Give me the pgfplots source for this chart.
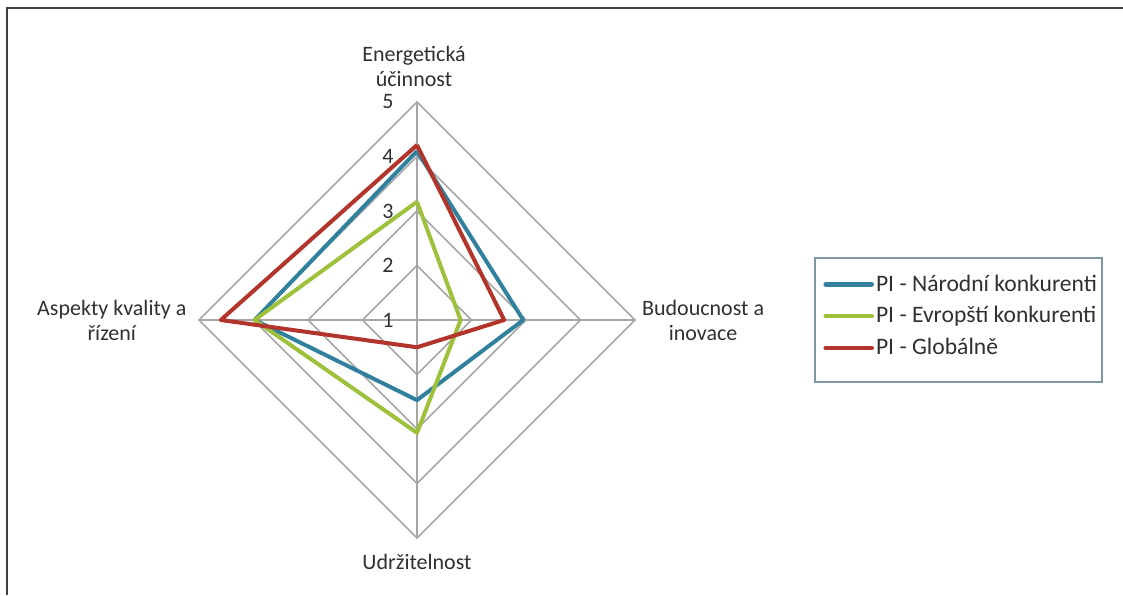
\documentclass[border=0pt]{standalone}
\usepackage{pgfplots}
\pgfplotsset{compat=1.18}
\usepackage{pgfplotstable}
\usepackage{fontspec}
\setmainfont{Carlito}

\definecolor{narblue}{HTML}{31809E}
\definecolor{evrgreen}{HTML}{9DC13A}
\definecolor{globred}{HTML}{B2342A}
\definecolor{gridgray}{HTML}{A6A6A6}
\definecolor{txt}{HTML}{303030}
\definecolor{legframe}{HTML}{7E98A0}

% radar values: angle of the spoke (deg) and score of each series (scale 1-5)
\pgfplotstableread{
angle nar  evr  glob
90    4.10 3.17 4.21
0     2.95 1.80 2.60
270   2.47 3.07 1.50
180   3.98 3.98 4.60
90    4.10 3.17 4.21
}\radardata

\begin{document}
\begin{tikzpicture}[font=\fontsize{11}{12.5}\selectfont, text=txt]
\begin{axis}[
  x=27.25pt, y=27.25pt,
  xmin=-7.6514, xmax=12.9541, ymin=-5.0459, ymax=5.8716,
  hide axis, clip=false,
  legend style={at={(axis cs:7.45,0.07)}, anchor=west,
    draw=none, fill=none, inner sep=0pt,
    row sep=4.2pt, font=\fontsize{11.8}{13}\selectfont, text=txt,
    nodes={inner xsep=1pt, inner ysep=1pt}},
  legend cell align=left,
  legend image code/.code={\draw[#1, line width=2.3pt, line cap=round] (0pt,0pt) -- (23pt,0pt);},
]
% diamond grid, rings at 2,3,4,5
\draw[gridgray, line width=0.8pt] (axis cs:1,0) -- (axis cs:0,1) -- (axis cs:-1,0) -- (axis cs:0,-1) -- cycle;
\draw[gridgray, line width=0.8pt] (axis cs:2,0) -- (axis cs:0,2) -- (axis cs:-2,0) -- (axis cs:0,-2) -- cycle;
\draw[gridgray, line width=0.8pt] (axis cs:3,0) -- (axis cs:0,3) -- (axis cs:-3,0) -- (axis cs:0,-3) -- cycle;
\draw[gridgray, line width=0.8pt] (axis cs:4,0) -- (axis cs:0,4) -- (axis cs:-4,0) -- (axis cs:0,-4) -- cycle;
\draw[gridgray, line width=0.8pt] (axis cs:-4,0) -- (axis cs:4,0);
\draw[gridgray, line width=0.8pt] (axis cs:0,-4) -- (axis cs:0,4);

\addplot[narblue, line width=2pt, line join=round] table[
  x expr={(\thisrow{nar}-1)*cos(\thisrow{angle})},
  y expr={(\thisrow{nar}-1)*sin(\thisrow{angle})}] {\radardata};
\addlegendentry{PI - Národní konkurenti}
\addplot[evrgreen, line width=2pt, line join=round] table[
  x expr={(\thisrow{evr}-1)*cos(\thisrow{angle})},
  y expr={(\thisrow{evr}-1)*sin(\thisrow{angle})}] {\radardata};
\addlegendentry{PI - Evropští konkurenti}
\addplot[globred, line width=2pt, line join=round] table[
  x expr={(\thisrow{glob}-1)*cos(\thisrow{angle})},
  y expr={(\thisrow{glob}-1)*sin(\thisrow{angle})}] {\radardata};
\addlegendentry{PI - Globálně}

% legend frame
\draw[legframe, line width=0.8pt] (axis cs:7.303,1.138) rectangle (axis cs:12.569,-1.138);

% scale labels
\node[anchor=east] at (axis cs:-0.30,4) {5};
\node[anchor=east] at (axis cs:-0.30,3) {4};
\node[anchor=east] at (axis cs:-0.30,2) {3};
\node[anchor=east] at (axis cs:-0.30,1) {2};
\node[anchor=east] at (axis cs:-0.30,0) {1};

% category labels
\node[align=center] at (axis cs:-0.055,4.66) {Energetická\\účinnost};
\node[align=center] at (axis cs:5.25,0) {Budoucnost a\\inovace};
\node[align=center] at (axis cs:0,-4.44) {Udržitelnost};
\node[align=center] at (axis cs:-5.60,0) {Aspekty kvality a\\řízení};

% frame
\draw[black!75, line width=1.1pt] (axis cs:-7.523,-5.0459) -- (axis cs:-7.523,5.725) -- (axis cs:12.9541,5.725);
\end{axis}
\pgfresetboundingbox
\path (current axis.south west) rectangle (current axis.north east);
\end{tikzpicture}
\end{document}
